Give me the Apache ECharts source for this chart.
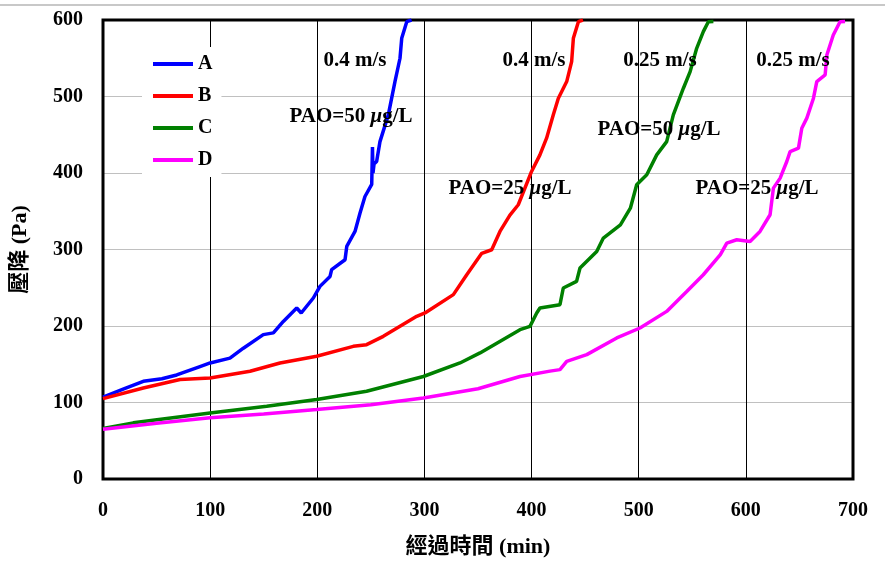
<!DOCTYPE html>
<html>
<head>
<meta charset="utf-8">
<script src="https://cdn.jsdelivr.net/npm/echarts@6/dist/echarts.min.js"></script>
<style>html,body{margin:0;padding:0;background:#fff}#c{width:885px;height:563px}</style>
</head>
<body>
<div id="c"></div>
<script>
// ---- data ----
const seriesNames = ['A', 'B', 'C', 'D'];
const colors = ['#0000FF', '#FF0000', '#008000', '#FF00FF'];

const timeA = [0, 20, 37.6, 55, 68.8, 90.5, 100, 118.5, 131, 149.6, 159, 168.3, 180.8, 185, 196.3, 202.5, 211.9, 213.4, 225.9, 227.5, 235.2, 239.9, 244.5, 250.8, 251.5, 252, 253, 255.4, 258.5, 266.3, 272.5, 277.2, 278.8, 283.5, 288];
const dpA   = [107, 118, 127.7, 131, 136, 147, 151.7, 158, 171, 188.7, 191, 206, 223.5, 217, 236.6, 251.8, 264.8, 273.6, 286.6, 304, 323.6, 347.6, 369.3, 385, 434, 400, 412, 415, 441, 476, 519.5, 550, 576, 597.8, 600];

const timeB = [0, 37.6, 71.9, 99.9, 137.2, 165.2, 199.4, 233.6, 246, 261.6, 292.8, 300.5, 327, 339.5, 353.5, 362.8, 370.5, 379.8, 387.6, 400, 407.8, 414, 420.3, 425, 432.8, 437.4, 439, 443.7, 448];
const dpB   = [105, 119, 130, 132, 140.8, 151.7, 160.4, 173.4, 175.6, 186.5, 212.6, 217, 241, 267, 295, 299.7, 323.6, 345, 358.5, 402, 423.7, 445.5, 476, 497.8, 519.5, 545.6, 576, 597.8, 600];

const timeC = [0, 28.3, 99.9, 152.8, 199.4, 246, 299, 333.2, 351.9, 389.2, 398.5, 404.8, 407.8, 426.5, 429.6, 442, 445.2, 460.8, 467, 482.9, 492.2, 498.1, 507.5, 516.8, 526.1, 532.3, 541.7, 548, 554.1, 560.3, 565, 569.7];
const dpC   = [66, 73.4, 86.4, 95, 103.8, 114.7, 134, 151.7, 164.8, 195.2, 199.5, 217, 223.5, 227.9, 249.7, 258.3, 275.8, 297.5, 315, 332.3, 354, 384.6, 397.6, 423.7, 441, 476, 510.8, 532.5, 563, 584.8, 597.8, 598];

const timeD = [0, 50, 99.9, 150, 199.4, 250, 299, 350, 389.2, 417.2, 426.5, 432.8, 451.5, 479.5, 501.2, 526.1, 544.8, 560.3, 576.2, 582.2, 591.5, 603.9, 613.2, 622.6, 625.7, 632, 638.2, 641.3, 649.1, 652.2, 656.9, 663.1, 666.2, 674, 675.6, 681.6, 687.9, 692.6];
const dpD   = [65, 73, 80, 85, 90.8, 97, 106, 118, 134, 141, 143, 153.8, 162.6, 184.4, 197.4, 219.1, 245.2, 267, 293.2, 308.4, 312.7, 310.5, 323.6, 345.4, 380.2, 393.3, 415, 428, 432.5, 458.6, 471.7, 497.8, 519.5, 528.2, 554.3, 580.4, 597.8, 598];

const xTicks = [0, 100, 200, 300, 400, 500, 600, 700];
const yTicks = [0, 100, 200, 300, 400, 500, 600];

const speedLabels = ['0.4 m/s', '0.4 m/s', '0.25 m/s', '0.25 m/s'];
const paoLabels = ['PAO=50 ', 'PAO=25 ', 'PAO=50 ', 'PAO=25 '];
const xTitle = '經過時間 (min)';
const yTitle = '壓降 (Pa)';

// ---- build ----
const zip = (a, b) => a.map((v, i) => [v, b[i]]);
const allT = [timeA, timeB, timeC, timeD];
const allV = [dpA, dpB, dpC, dpD];

const serif = '"Liberation Serif", "Times New Roman", "Noto Sans CJK TC", serif';
const chart = echarts.init(document.getElementById('c'), null, {renderer: 'canvas'});

const speedPos = [[355, 61], [534, 61], [660, 61], [793, 61]];
const paoPos = [[351, 117], [510, 189], [659, 130], [757, 189]];
const FS = 21;

const graphics = [
  {type: 'line', shape: {x1: 0, y1: 5, x2: 885, y2: 5}, style: {stroke: '#c8c8c8', lineWidth: 2}, z: 0}
];
speedLabels.forEach((t, i) => {
  graphics.push({type: 'text', x: speedPos[i][0], y: speedPos[i][1], z: 100,
    style: {text: t, font: 'bold ' + FS + 'px ' + serif, fill: '#000', align: 'center', verticalAlign: 'middle'}});
});
paoLabels.forEach((t, i) => {
  graphics.push({type: 'text', x: paoPos[i][0], y: paoPos[i][1], z: 100,
    style: {text: '{n|' + t + '}{i|μ}{n|g/L}', align: 'center', verticalAlign: 'middle',
      rich: {n: {font: 'bold ' + FS + 'px ' + serif, fill: '#000'}, i: {font: 'italic bold ' + FS + 'px ' + serif, fill: '#000'}}}});
});

chart.setOption({
  animation: false,
  backgroundColor: '#fff',
  grid: {left: 103, right: 32, top: 20, bottom: 83.5, show: true, borderColor: '#000', borderWidth: 3, backgroundColor: 'transparent', z: 3},
  legend: {
    data: seriesNames, orient: 'vertical', left: 142, top: 47,
    padding: [6, 9, 6, 11], itemGap: 10, itemWidth: 40, itemHeight: 4, icon: 'rect',
    backgroundColor: '#fff', z: 50,
    textStyle: {fontFamily: serif, fontWeight: 'bold', fontSize: 20, color: '#000', lineHeight: 22}
  },
  xAxis: {
    type: 'value', min: 0, max: 700, interval: 100,
    name: xTitle, nameLocation: 'middle', nameGap: 57,
    nameTextStyle: {fontFamily: serif, fontWeight: 'bold', fontSize: 22, color: '#000'},
    axisLine: {show: false}, axisTick: {show: false},
    axisLabel: {margin: 22, fontFamily: serif, fontWeight: 'bold', fontSize: 20, color: '#000',
      formatter: v => xTicks.includes(v) ? String(v) : ''},
    splitLine: {show: true, lineStyle: {color: '#000', width: 1}}
  },
  yAxis: {
    type: 'value', min: 0, max: 600, interval: 100,
    name: yTitle, nameLocation: 'middle', nameGap: 72, nameRotate: 90,
    nameTextStyle: {fontFamily: serif, fontWeight: 'bold', fontSize: 22, color: '#000'},
    axisLine: {show: false}, axisTick: {show: false},
    axisLabel: {margin: 20, fontFamily: serif, fontWeight: 'bold', fontSize: 20, color: '#000',
      formatter: v => yTicks.includes(v) ? String(v) : ''},
    splitLine: {show: true, lineStyle: {color: '#c0c0c0', width: 1}}
  },
  series: seriesNames.map((n, i) => ({
    name: n, type: 'line', data: zip(allT[i], allV[i]), showSymbol: false, symbol: 'none',
    color: colors[i], lineStyle: {color: colors[i], width: 3.5}, z: 5 + i, clip: true
  })),
  graphic: graphics
});
</script>
</body>
</html>
